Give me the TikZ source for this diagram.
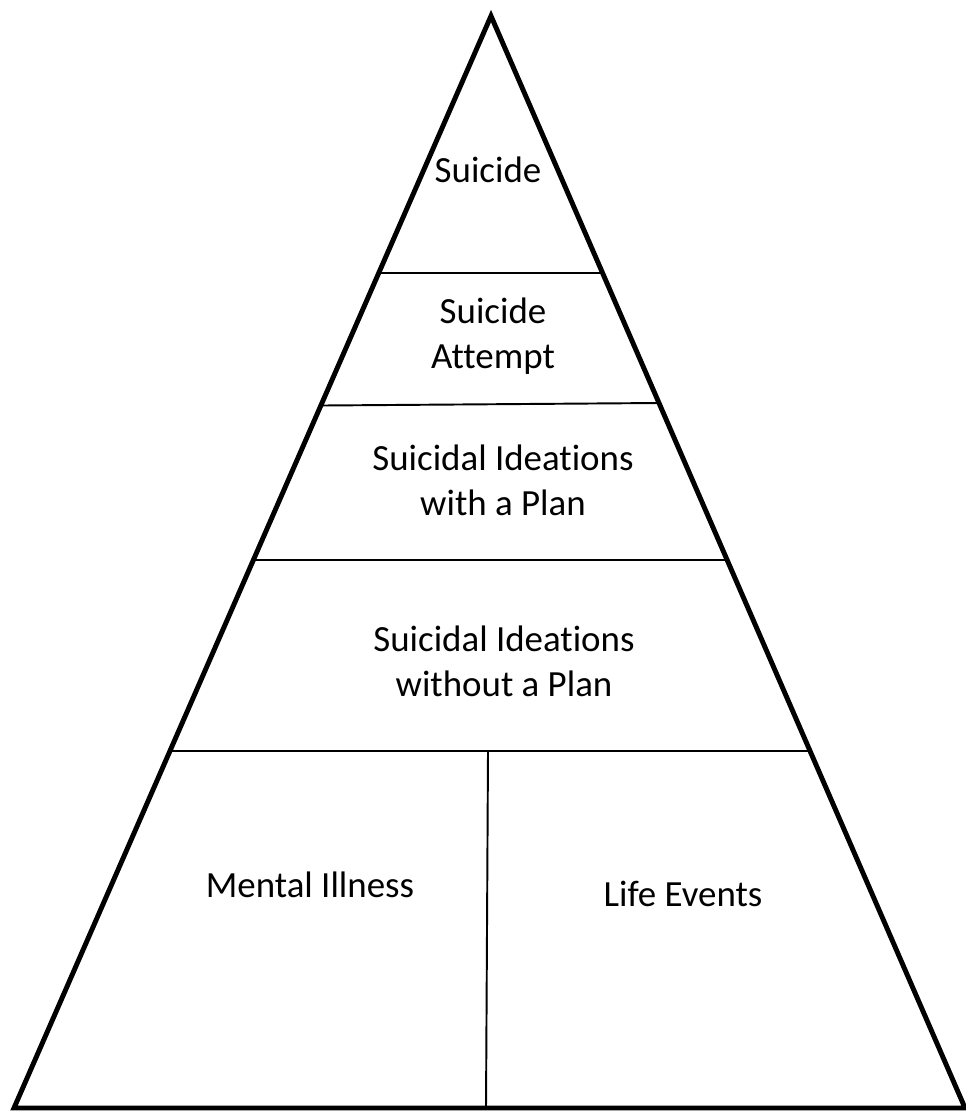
\documentclass[tikz,border=0pt]{standalone}
\usepackage{fontspec}
\setmainfont{Carlito}[Ligatures={NoCommon}]
\usetikzlibrary{calc}

\begin{document}
\begin{tikzpicture}[x=0.02cm, y=-0.02cm,
		outer/.style={line width=2.8pt, line join=miter},
		divider/.style={line width=1.1pt},
		level/.style={font=\fontsize{21}{25.6}\selectfont, align=center}]
		\useasboundingbox (0,0) rectangle (965,1114);
		\coordinate (apex) at (491,16);
		\coordinate (bl) at (14,1108);
		\coordinate (br) at (965,1108);
		\draw[outer] (apex) -- (br) -- (bl) -- cycle;
		\draw[divider] ($(apex)!0.2353!(bl)$) -- ($(apex)!0.2353!(br)$);
		\draw[divider] ($(apex)!0.3567!(bl)$) -- ($(apex)!0.3544!(br)$);
		\draw[divider] ($(apex)!0.498!(bl)$) -- ($(apex)!0.498!(br)$);
		\draw[divider] ($(apex)!0.673!(bl)$) -- ($(apex)!0.673!(br)$);
		\coordinate (splittop) at (488,751);
		\coordinate (splitbot) at (486,1108);
		\draw[divider] (splittop) -- (splitbot);
		\node[level] (suicide) at (488,170) {Suicide};
		\node[level] (attempt) at (493,336) {Suicide\\Attempt};
		\node[level] (withplan) at (503,480) {Suicidal Ideations\\with a Plan};
		\node[level] (noplan) at (504,661) {Suicidal Ideations\\without a Plan};
		\node[level] (illness) at (310,885) {Mental Illness};
		\node[level] (events) at (683,894) {Life Events};
	\end{tikzpicture}
\end{document}
